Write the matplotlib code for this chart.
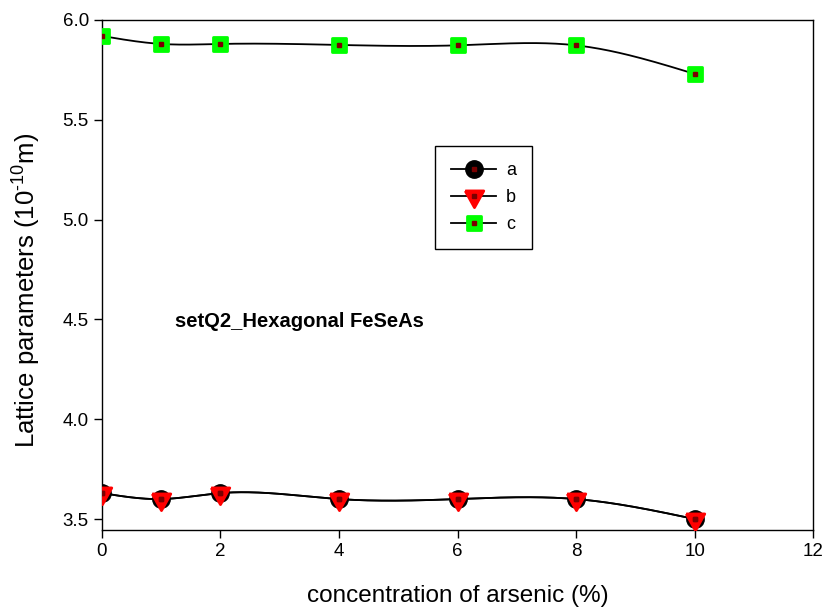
import numpy as np
import matplotlib
matplotlib.use("Agg")
import matplotlib.pyplot as plt
from matplotlib.markers import MarkerStyle
from matplotlib.legend_handler import HandlerTuple

plt.rcParams["font.family"] = ["Liberation Sans", "DejaVu Sans"]
plt.rcParams["mathtext.fontset"] = "custom"
plt.rcParams["mathtext.rm"] = "Liberation Sans"
plt.rcParams["mathtext.it"] = "Liberation Sans:italic"
plt.rcParams["mathtext.bf"] = "Liberation Sans:bold"

# data
conc = [0, 1, 2, 4, 6, 8, 10]
a_vals = [3.63, 3.60, 3.63, 3.60, 3.60, 3.60, 3.50]
b_vals = [3.63, 3.60, 3.63, 3.60, 3.60, 3.60, 3.50]
c_vals = [5.92, 5.88, 5.88, 5.875, 5.873, 5.873, 5.73]
series_labels = ["a", "b", "c"]
title_text = "setQ2_Hexagonal FeSeAs"


def natural_spline(x, y, n=300):
    # natural cubic spline through the points, for the smooth connecting line
    x = np.asarray(x, float)
    y = np.asarray(y, float)
    k = len(x)
    h = np.diff(x)
    A = np.zeros((k, k))
    r = np.zeros(k)
    A[0, 0] = A[-1, -1] = 1.0
    for i in range(1, k - 1):
        A[i, i - 1] = h[i - 1]
        A[i, i] = 2 * (h[i - 1] + h[i])
        A[i, i + 1] = h[i]
        r[i] = 6 * ((y[i + 1] - y[i]) / h[i] - (y[i] - y[i - 1]) / h[i - 1])
    m = np.linalg.solve(A, r)
    xs = np.linspace(x[0], x[-1], n)
    idx = np.clip(np.searchsorted(x, xs) - 1, 0, k - 2)
    x0, x1 = x[idx], x[idx + 1]
    hh = x1 - x0
    t0, t1 = x1 - xs, xs - x0
    ys = (m[idx] * t0 ** 3 + m[idx + 1] * t1 ** 3) / (6 * hh) \
        + (y[idx] / hh - m[idx] * hh / 6) * t0 + (y[idx + 1] / hh - m[idx + 1] * hh / 6) * t1
    return xs, ys


# down triangle centred on its centroid, rounded corners like the reference
tri_down = MarkerStyle([(-1.0, 0.6), (1.0, 0.6), (0.0, -1.2), (-1.0, 0.6)], joinstyle="round")
sq_round = MarkerStyle("s", joinstyle="round")

fig = plt.figure(figsize=(8.25, 6.15), dpi=100)
ax = fig.add_axes([0.1236, 0.1382, 0.862, 0.8293])

dot = dict(marker="s", ms=2.5, color="#7a0000", ls="none", zorder=6)
handles = []
styles = [
    (a_vals, dict(marker="o", ms=12.5, mfc="black", mec="black")),
    (b_vals, dict(marker=tri_down, ms=16, mfc="red", mec="red", mew=2)),
    (c_vals, dict(marker=sq_round, ms=10.5, mfc="#00ff00", mec="#00ff00", mew=2)),
]
for vals, st in styles:
    xs, ys = natural_spline(conc, vals)
    ax.plot(xs, ys, color="black", lw=1.3, zorder=3)
    ax.plot(conc, vals, ls="none", zorder=5, **st)
    ax.plot(conc, vals, **dot)
    h_line, = ax.plot([], [], color="black", lw=1.3, **st)
    h_dot, = ax.plot([], [], **dot)
    handles.append((h_line, h_dot))

leg = ax.legend(handles, series_labels, handler_map={tuple: HandlerTuple(ndivide=1)},
                loc="upper left", bbox_to_anchor=(0.468, 0.753), fontsize=13,
                frameon=True, fancybox=False, edgecolor="black", framealpha=1,
                handlelength=2.5, handletextpad=0.55, borderpad=0.9, labelspacing=0.55,
                borderaxespad=0)
leg.get_frame().set_linewidth(1.0)

ax.text(1.23, 4.49, title_text, fontsize=14.5, fontweight="bold", va="center", ha="left")

ax.set_xlim(0, 12)
ax.set_ylim(3.445, 6.0)
ax.set_xticks([0, 2, 4, 6, 8, 10, 12])
ax.set_yticks([3.5, 4.0, 4.5, 5.0, 5.5, 6.0])
ax.tick_params(direction="out", length=6, width=1, labelsize=13.5)
for s in ax.spines.values():
    s.set_linewidth(1.0)
ax.set_xlabel("concentration of arsenic (%)", fontsize=17.5, labelpad=18)
ax.set_ylabel("Lattice parameters (10$^{\u201010}$m)", fontsize=18.5)
ax.yaxis.set_label_coords(-0.083, 0.47)

fig.savefig("out.png", dpi=100)
